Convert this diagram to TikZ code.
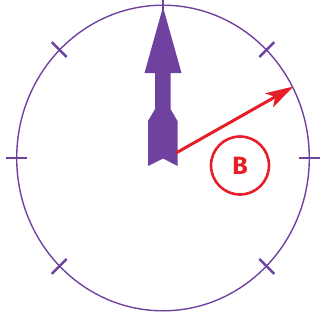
\documentclass[tikz,border=0pt]{standalone}
\usepackage{fontspec}
\setsansfont{Fira Sans}
\usetikzlibrary{arrows.meta,calc}
\definecolor{clkpurple}{RGB}{112,66,160}
\definecolor{clkred}{RGB}{230,30,40}
\tikzset{
  dial/.style={draw=clkpurple, line width=1.4pt},
  tickmark/.style={draw=clkpurple, line width=2.6pt},
  hand/.style={fill=clkpurple, draw=none},
  redarrow/.style={draw=clkred, line width=3pt, -{Stealth[length=28pt,width=16pt,inset=7pt]}},
  label/.style={circle, draw=clkred, line width=2.6pt, minimum size=58pt, inner sep=0pt, text=clkred, font=\sffamily\bfseries\fontsize{25}{25}\selectfont}
}
\begin{document}
\begin{tikzpicture}[x=1pt,y=-1pt]
\useasboundingbox (0,0) rectangle (322,322);
\coordinate (c) at (163,158);
% dial
\draw[dial] (c) ellipse [x radius=146.3, y radius=152.8];
% ticks
\foreach \a in {0,45,135,180,225,270,315} {
  \draw[tickmark] ($(c)+({(146.3-10)*cos(\a)},{(152.8-10)*sin(\a)})$) -- ($(c)+({(146.3+11)*cos(\a)},{(152.8+11)*sin(\a)})$);
}
% purple hand
\path[hand] (163,7) -- (181.5,73) -- (170.5,73) -- (170.5,109) -- (177.5,121) -- (177.5,166)
  -- (163,158.5) -- (148,166) -- (148,121) -- (155,109) -- (155,73) -- (144.5,73) -- cycle;
% red arrow
\coordinate (hub) at (176,153);
\coordinate (rtip) at (293.5,86.5);
\draw[redarrow] (hub) -- (rtip);
\node[label] (b) at (240,165.5) {B};
\end{tikzpicture}
\end{document}
